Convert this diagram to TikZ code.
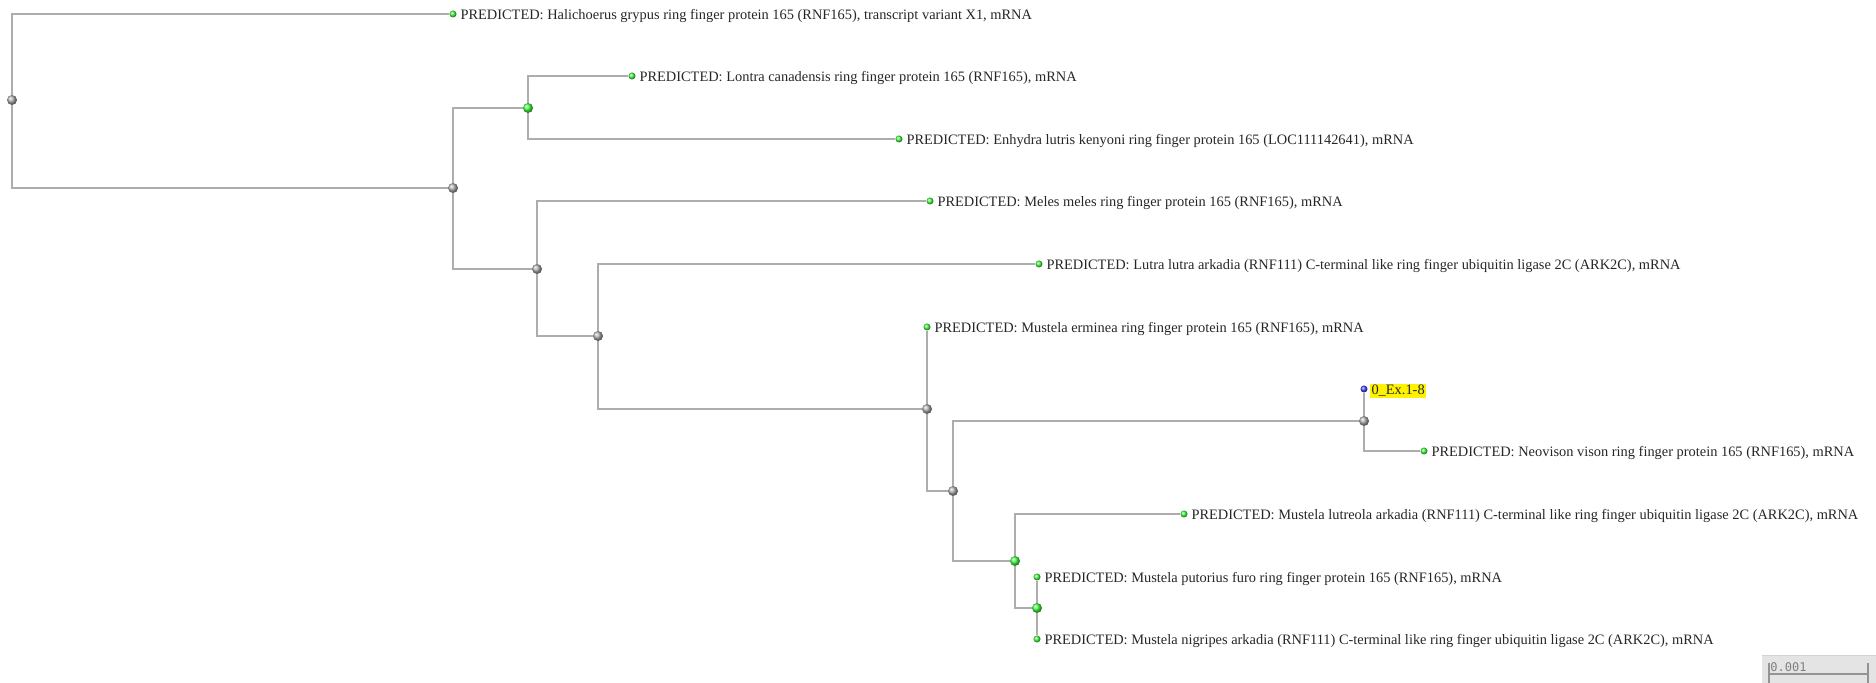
\documentclass[tikz,border=0pt]{standalone}
\usepackage{fontspec}
\setmainfont{Liberation Serif}
\newfontfamily\barfont{DejaVu Sans Mono}
\usetikzlibrary{positioning}

\definecolor{branch}{HTML}{ADADAD}
\definecolor{leafgreen}{HTML}{44FF44}
\definecolor{querycol}{HTML}{4444FF}
\definecolor{knotgray}{HTML}{B0B0B0}
\definecolor{barfill}{HTML}{E4E4E4}

\tikzstyle{knot} = [circle, inner sep=0pt, minimum size=5pt, shading=ball, ball color=knotgray]
\tikzstyle{gknot} = [knot, ball color=leafgreen]
\tikzstyle{leafdot} = [circle, inner sep=0pt, minimum size=3.5pt, shading=ball, ball color=leafgreen]
\tikzstyle{qdot} = [leafdot, ball color=querycol]
\tikzstyle{seqname} = [inner sep=0.6pt, yshift=-0.8pt, text=black!85]
\tikzstyle{twig} = [draw=branch, line width=0.6pt]

\begin{document}
\begin{tikzpicture}[x=0.5pt, y=-0.5pt, font=\fontsize{7.2}{8}\selectfont]
\useasboundingbox (0,0) rectangle (1876,683);

% inner nodes
\node[knot]  (root) at (12,100) {};
\node[knot]  (n1) at (453,188) {};
\node[gknot] (n2) at (528,108) {};
\node[knot]  (n3) at (537,269) {};
\node[knot]  (n4) at (598,336) {};
\node[knot]  (n5) at (927,409) {};
\node[knot]  (n6) at (953,491) {};
\node[knot]  (n7) at (1364,421) {};
\node[gknot] (n8) at (1015,561) {};
\node[gknot] (n9) at (1037,608) {};

% leaves
\node[leafdot] (hal) at (453,14) {};
\node[leafdot] (lon) at (632,76) {};
\node[leafdot] (enh) at (899,139) {};
\node[leafdot] (mel) at (930,201) {};
\node[leafdot] (lut) at (1039,264) {};
\node[leafdot] (erm) at (927,327) {};
\node[qdot]    (qry) at (1364,389) {};
\node[leafdot] (neo) at (1424,451) {};
\node[leafdot] (lre) at (1184,514) {};
\node[leafdot] (put) at (1037,577) {};
\node[leafdot] (nig) at (1037,639) {};

\node[seqname, right=1pt of hal] (halT) {PREDICTED: Halichoerus grypus ring finger protein 165 (RNF165), transcript variant X1, mRNA};
\node[seqname, right=1pt of lon] (lonT) {PREDICTED: Lontra canadensis ring finger protein 165 (RNF165), mRNA};
\node[seqname, right=1pt of enh] (enhT) {PREDICTED: Enhydra lutris kenyoni ring finger protein 165 (LOC111142641), mRNA};
\node[seqname, right=1pt of mel] (melT) {PREDICTED: Meles meles ring finger protein 165 (RNF165), mRNA};
\node[seqname, right=1pt of lut] (lutT) {PREDICTED: Lutra lutra arkadia (RNF111) C-terminal like ring finger ubiquitin ligase 2C (ARK2C), mRNA};
\node[seqname, right=1pt of erm] (ermT) {PREDICTED: Mustela erminea ring finger protein 165 (RNF165), mRNA};
\node[seqname, right=1pt of qry, fill=yellow] (qryT) {0\_Ex.1-8};
\node[seqname, right=1pt of neo] (neoT) {PREDICTED: Neovison vison ring finger protein 165 (RNF165), mRNA};
\node[seqname, right=1pt of lre] (lreT) {PREDICTED: Mustela lutreola arkadia (RNF111) C-terminal like ring finger ubiquitin ligase 2C (ARK2C), mRNA};
\node[seqname, right=1pt of put] (putT) {PREDICTED: Mustela putorius furo ring finger protein 165 (RNF165), mRNA};
\node[seqname, right=1pt of nig] (nigT) {PREDICTED: Mustela nigripes arkadia (RNF111) C-terminal like ring finger ubiquitin ligase 2C (ARK2C), mRNA};

% branches
\path[twig] (root) |- (hal)  (root) |- (n1)
            (n1) |- (n2)     (n1) |- (n3)
            (n2) |- (lon)    (n2) |- (enh)
            (n3) |- (mel)    (n3) |- (n4)
            (n4) |- (lut)    (n4) |- (n5)
            (n5) -- (erm)    (n5) |- (n6)
            (n6) |- (n7)     (n6) |- (n8)
            (n7) -- (qry)    (n7) |- (neo)
            (n8) |- (lre)    (n8) |- (n9)
            (n9) -- (put)    (n9) -- (nig);

% scale bar
\fill[barfill] (1762,656) rectangle (1876,683);
\draw[gray!35, line width=0.5pt] (1762,656) -- (1876,656);
\node[anchor=north west, inner sep=0pt, text=gray, font=\barfont\fontsize{6}{6}\selectfont] (barT) at (1770,662) {0.001};
\coordinate (barL) at (1769,674);
\coordinate (barR) at (1868,674);
\draw[gray!85, line width=0.6pt] (barL) -- (barR)
    (barL |- 0,663) -- (barL |- 0,683)
    (barR |- 0,663) -- (barR |- 0,683);
\end{tikzpicture}
\end{document}
